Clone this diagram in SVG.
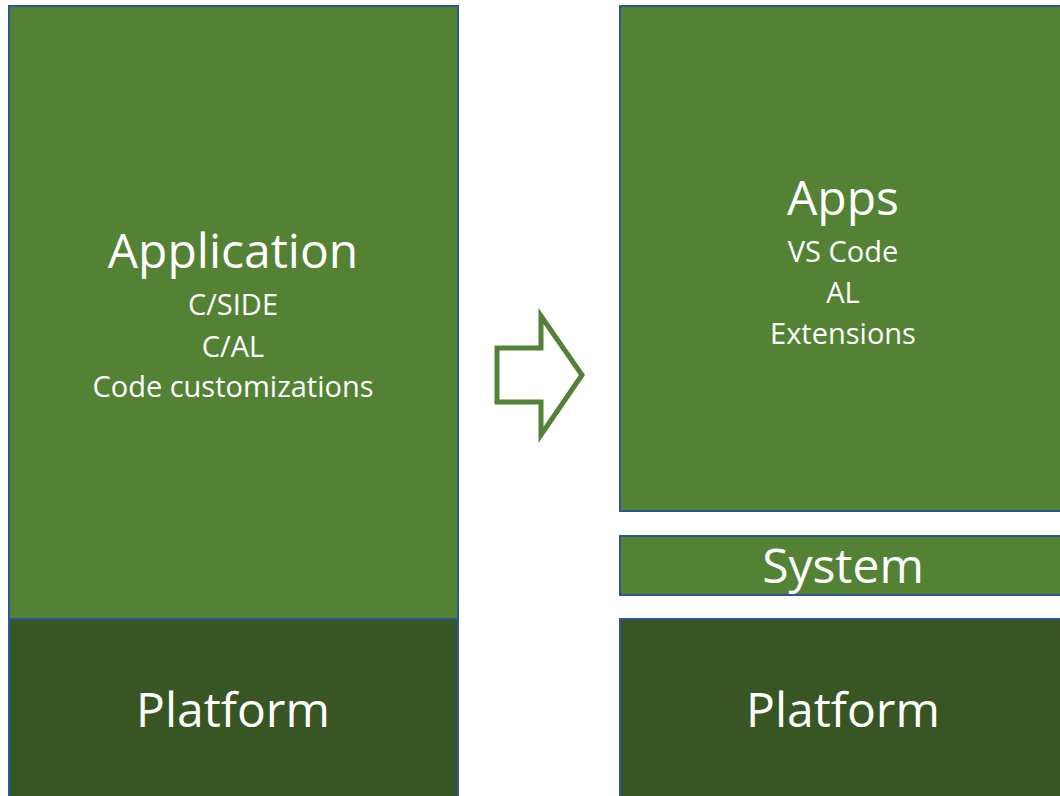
<svg xmlns="http://www.w3.org/2000/svg" width="1060" height="796" viewBox="0 0 1060 796">
<style>
.box{fill:#548235;stroke:#2F5597;stroke-width:2}
.dark{fill:#375623;stroke:#2F5597;stroke-width:2}
text{font-family:"Open Sans","Noto Sans","DejaVu Sans",sans-serif;fill:#fff;text-anchor:middle}
.big{font-size:48px}
.small{font-size:29px}
</style>
<rect width="1060" height="796" fill="#fff"/>
<g id="application">
<rect class="box" x="9" y="6" width="449" height="613"/>
<text class="big" x="233" y="268">Application</text>
<text class="small" x="233" y="315">C/SIDE</text>
<text class="small" x="233" y="357">C/AL</text>
<text class="small" x="233" y="397">Code customizations</text>
</g>
<g id="platform-left">
<rect class="dark" x="9" y="619" width="449" height="190"/>
<text class="big" x="233" y="727">Platform</text>
</g>
<g id="apps">
<rect class="box" x="620" y="6" width="450" height="505"/>
<text class="big" x="843" y="215">Apps</text>
<text class="small" x="843" y="262">VS Code</text>
<text class="small" x="843" y="303">AL</text>
<text class="small" x="843" y="344">Extensions</text>
</g>
<g id="system">
<rect class="box" x="620" y="536" width="450" height="59"/>
<text class="big" x="843" y="583">System</text>
</g>
<g id="platform-right">
<rect class="dark" x="620" y="619" width="450" height="190"/>
<text class="big" x="843" y="727">Platform</text>
</g>
<g id="connectors">
<polygon points="497,348 541,348 541,316 582,375 541,435 541,402 497,402" fill="none" stroke="#538135" stroke-width="5"/>
</g>
</svg>
